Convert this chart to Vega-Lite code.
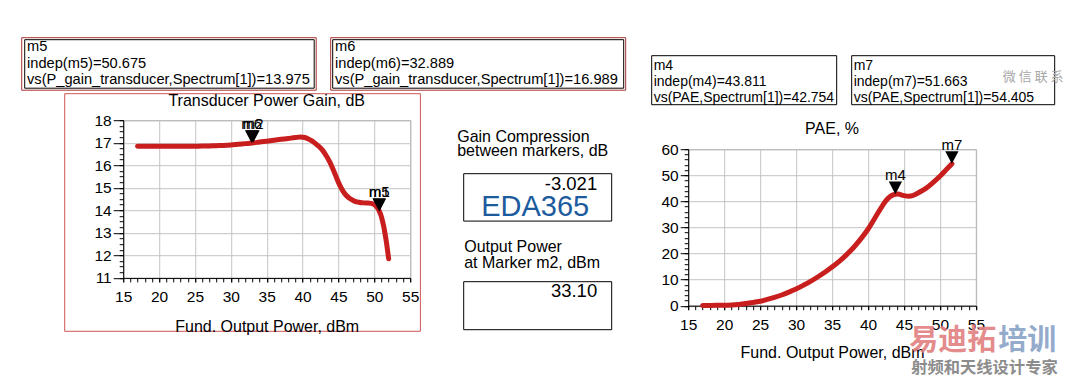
{
  "$schema": "https://vega.github.io/schema/vega-lite/v6.json",
  "padding": {"left": 20.2, "top": 36.2, "right": 0, "bottom": 0},
  "background": "white",
  "spacing": 0,
  "bounds": "flush",
  "config": {
    "font": "Liberation Sans",
    "view": {"stroke": null},
    "axis": {"labelFont": "Liberation Sans", "titleFont": "Liberation Sans", "labelColor": "black", "titleColor": "black", "titleFontWeight": "normal", "labelFontSize": 15.5, "titleFontSize": 16, "labelFlush": false, "labelOverlap": false, "labelBound": false},
    "text": {"font": "Liberation Sans", "color": "black"}
  },
  "datasets": {
    "gain": [
      {"pout": 17.0, "gain": 16.84}, {"pout": 18, "gain": 16.84}, {"pout": 19, "gain": 16.84}, {"pout": 20, "gain": 16.84},
      {"pout": 21, "gain": 16.84}, {"pout": 22, "gain": 16.84}, {"pout": 23, "gain": 16.84}, {"pout": 24, "gain": 16.84},
      {"pout": 25, "gain": 16.845}, {"pout": 26, "gain": 16.85}, {"pout": 27, "gain": 16.86}, {"pout": 28, "gain": 16.87},
      {"pout": 29, "gain": 16.88}, {"pout": 30, "gain": 16.9}, {"pout": 31, "gain": 16.93}, {"pout": 32, "gain": 16.96},
      {"pout": 33, "gain": 16.99}, {"pout": 34, "gain": 17.03}, {"pout": 35, "gain": 17.07}, {"pout": 36, "gain": 17.11},
      {"pout": 37, "gain": 17.15}, {"pout": 38, "gain": 17.19}, {"pout": 39, "gain": 17.23}, {"pout": 39.7, "gain": 17.25},
      {"pout": 40.3, "gain": 17.23}, {"pout": 40.8, "gain": 17.17}, {"pout": 41.3, "gain": 17.08}, {"pout": 41.8, "gain": 16.96},
      {"pout": 42.3, "gain": 16.83}, {"pout": 42.8, "gain": 16.66}, {"pout": 43.3, "gain": 16.42}, {"pout": 43.8, "gain": 16.14},
      {"pout": 44.2, "gain": 15.86}, {"pout": 44.6, "gain": 15.55}, {"pout": 45.0, "gain": 15.24}, {"pout": 45.4, "gain": 14.98},
      {"pout": 45.9, "gain": 14.73}, {"pout": 46.4, "gain": 14.57}, {"pout": 46.8, "gain": 14.48}, {"pout": 47.3, "gain": 14.4},
      {"pout": 47.8, "gain": 14.36}, {"pout": 48.5, "gain": 14.33}, {"pout": 49.2, "gain": 14.32}, {"pout": 49.8, "gain": 14.29},
      {"pout": 50.2, "gain": 14.2}, {"pout": 50.5, "gain": 14.08}, {"pout": 50.675, "gain": 13.975}, {"pout": 50.9, "gain": 13.8},
      {"pout": 51.1, "gain": 13.58}, {"pout": 51.3, "gain": 13.3}, {"pout": 51.5, "gain": 12.95}, {"pout": 51.7, "gain": 12.55},
      {"pout": 51.85, "gain": 12.2}, {"pout": 52.0, "gain": 11.85}
    ],
    "pae": [
      {"pout": 17, "pae": 0.05}, {"pout": 18, "pae": 0.1}, {"pout": 19, "pae": 0.15}, {"pout": 20, "pae": 0.2},
      {"pout": 21, "pae": 0.3}, {"pout": 22, "pae": 0.5}, {"pout": 23, "pae": 0.8}, {"pout": 24, "pae": 1.2},
      {"pout": 25, "pae": 1.7}, {"pout": 26, "pae": 2.4}, {"pout": 27, "pae": 3.2}, {"pout": 28, "pae": 4.1},
      {"pout": 29, "pae": 5.2}, {"pout": 30, "pae": 6.4}, {"pout": 31, "pae": 7.8}, {"pout": 32, "pae": 9.3},
      {"pout": 33, "pae": 11.0}, {"pout": 34, "pae": 12.8}, {"pout": 35, "pae": 14.8}, {"pout": 36, "pae": 17.0},
      {"pout": 37, "pae": 19.5}, {"pout": 38, "pae": 22.3}, {"pout": 39, "pae": 25.6}, {"pout": 40, "pae": 29.3},
      {"pout": 41, "pae": 33.8}, {"pout": 42, "pae": 38.3}, {"pout": 42.5, "pae": 40.3}, {"pout": 43, "pae": 41.7},
      {"pout": 43.5, "pae": 42.5}, {"pout": 43.811, "pae": 42.754}, {"pout": 44.2, "pae": 42.8}, {"pout": 44.7, "pae": 42.4},
      {"pout": 45.2, "pae": 42.1}, {"pout": 45.7, "pae": 42.0}, {"pout": 46.2, "pae": 42.2}, {"pout": 46.7, "pae": 42.8},
      {"pout": 47.2, "pae": 43.6}, {"pout": 48, "pae": 44.9}, {"pout": 49, "pae": 47.1}, {"pout": 50, "pae": 49.6},
      {"pout": 51, "pae": 52.5}, {"pout": 51.663, "pae": 54.405}
    ],
    "gm": [
      {"x": 32.889, "y": 16.989, "label": "m6"},
      {"x": 33.1, "y": 16.995, "label": "m2"},
      {"x": 50.675, "y": 13.975, "label": "m5"},
      {"x": 50.7, "y": 13.95, "label": "m1"}
    ],
    "pm": [
      {"x": 43.811, "y": 42.754, "label": "m4"},
      {"x": 51.663, "y": 54.405, "label": "m7"}
    ]
  },
  "vconcat": [
    {"spacing": 0, "bounds": "flush", "hconcat": [
      {"width": 294.5, "height": 52.5, "view": {"stroke": "#a83232"}, "data": {"values": []}, "mark": "point"},
      {"width": 13.1, "height": 1, "data": {"values": []}, "mark": "point"},
      {"width": 295, "height": 52.5, "view": {"stroke": "#a83232"}, "data": {"values": []}, "mark": "point"}
    ]},
    {"width": 1, "height": 2, "data": {"values": []}, "mark": "point"},
    {"spacing": 0, "bounds": "flush", "hconcat": [
      {"width": 2.5, "height": 1, "data": {"values": []}, "mark": "point"},
      {
        "width": 289.5, "height": 48.5,
        "view": {"stroke": "black"},
        "data": {"values": [{"t": "m5\nindep(m5)=50.675\nvs(P_gain_transducer,Spectrum[1])=13.975"}]},
        "mark": {"type": "text", "x": 2.8, "y": 12.3, "align": "left", "baseline": "alphabetic", "lineBreak": "\n", "lineHeight": 16.3, "fontSize": 14.66},
        "encoding": {"text": {"field": "t"}}
      },
      {"width": 17.8, "height": 1, "data": {"values": []}, "mark": "point"},
      {
        "width": 291, "height": 48.5,
        "view": {"stroke": "black"},
        "data": {"values": [{"t": "m6\nindep(m6)=32.889\nvs(P_gain_transducer,Spectrum[1])=16.989"}]},
        "mark": {"type": "text", "x": 2.8, "y": 12.3, "align": "left", "baseline": "alphabetic", "lineBreak": "\n", "lineHeight": 16.3, "fontSize": 14.66},
        "encoding": {"text": {"field": "t"}}
      }
    ]},
    {"width": 1, "height": 15.3, "data": {"values": []}, "mark": "point"},
    {"spacing": 0, "bounds": "flush", "hconcat": [
      {"width": 629.3, "height": 1, "data": {"values": []}, "mark": "point"},
      {
        "width": 185, "height": 49,
        "view": {"stroke": "black"},
        "data": {"values": [{"t": "m4\nindep(m4)=43.811\nvs(PAE,Spectrum[1])=42.754"}]},
        "mark": {"type": "text", "x": 2.5, "y": 14.8, "align": "left", "baseline": "alphabetic", "lineBreak": "\n", "lineHeight": 16, "fontSize": 14},
        "encoding": {"text": {"field": "t"}}
      },
      {"width": 14.3, "height": 1, "data": {"values": []}, "mark": "point"},
      {
        "width": 203, "height": 49,
        "view": {"stroke": "black"},
        "data": {"values": [{"t": "m7\nindep(m7)=51.663\nvs(PAE,Spectrum[1])=54.405", "w": "微 信 联 系"}]},
        "layer": [
          {
            "mark": {"type": "text", "x": 2.5, "y": 14.8, "align": "left", "baseline": "alphabetic", "lineBreak": "\n", "lineHeight": 16, "fontSize": 14},
            "encoding": {"text": {"field": "t"}}
          },
          {
            "mark": {"type": "text", "x": 182, "y": 22, "align": "center", "baseline": "middle", "fontSize": 13, "font": "Noto Sans CJK SC", "color": "#a8a8a8"},
            "encoding": {"text": {"field": "w"}}
          }
        ]
      }
    ]},
    {"width": 1, "height": 37.7, "data": {"values": []}, "mark": "point"},
    {"spacing": 0, "bounds": "flush", "hconcat": [
      {"width": 42.6, "height": 1, "data": {"values": []}, "mark": "point"},
      {"width": 355.7, "height": 237.6, "view": {"stroke": "#d05454"}, "data": {"values": []}, "mark": "point"}
    ]},
    {"width": 1, "height": 11.8, "data": {"values": []}, "mark": "point"},
    {"spacing": 0, "bounds": "flush", "hconcat": [
      {"width": 101.3, "height": 1, "data": {"values": []}, "mark": "point"},
      {
        "width": 287, "height": 1,
        "data": {"values": [{"t": "Transducer Power Gain, dB"}]},
        "mark": {"type": "text", "x": 143.5, "y": 1, "align": "center", "baseline": "alphabetic", "fontSize": 16},
        "encoding": {"text": {"field": "t"}}
      }
    ]},
    {"width": 1, "height": 14.8, "data": {"values": []}, "mark": "point"},
    {"spacing": 0, "bounds": "flush", "hconcat": [
      {"width": 101.3, "height": 1, "data": {"values": []}, "mark": "point"},
      {
        "width": 287, "height": 157.7,
        "view": {"stroke": "#8c8c8c"},
        "layer": [
          {
            "data": {"name": "gain"},
            "mark": {"type": "line", "color": "#c81e1e", "strokeWidth": 5, "strokeCap": "round", "strokeJoin": "round", "interpolate": "monotone"},
            "encoding": {
              "x": {"field": "pout", "type": "quantitative", "scale": {"domain": [15, 55], "nice": false, "zero": false},
                "axis": {"values": [15, 20, 25, 30, 35, 40, 45, 50, 55], "grid": true, "gridColor": "#c4c4c4", "domainColor": "black", "tickColor": "black", "tickSize": 4, "labelPadding": 8, "title": "Fund. Output Power, dBm", "titleBaseline": "alphabetic", "titleY": 53.5}},
              "y": {"field": "gain", "type": "quantitative", "scale": {"domain": [11, 18], "nice": false, "zero": false},
                "axis": {"values": [11, 12, 13, 14, 15, 16, 17, 18], "grid": true, "gridColor": "#c4c4c4", "domainColor": "black", "tickColor": "black", "tickSize": 10, "labelPadding": 2, "title": null}}
            }
          },
          {
            "data": {"name": "gm"},
            "mark": {"type": "point", "shape": "M-1,-1.9L1,-1.9L0,0Z", "size": 177, "filled": true, "color": "black", "opacity": 1},
            "encoding": {
              "x": {"field": "x", "type": "quantitative", "scale": {"domain": [15, 55], "nice": false, "zero": false},
                "axis": {"orient": "bottom", "values": [15,16,17,18,19,20,21,22,23,24,25,26,27,28,29,30,31,32,33,34,35,36,37,38,39,40,41,42,43,44,45,46,47,48,49,50,51,52,53,54,55], "grid": false, "labels": false, "domain": false, "tickColor": "black", "tickSize": 4, "title": null}},
              "y": {"field": "y", "type": "quantitative", "scale": {"domain": [11, 18], "nice": false, "zero": false},
                "axis": {"orient": "left", "values": [11,11.25,11.5,11.75,12,12.25,12.5,12.75,13,13.25,13.5,13.75,14,14.25,14.5,14.75,15,15.25,15.5,15.75,16,16.25,16.5,16.75,17,17.25,17.5,17.75,18], "grid": false, "labels": false, "domain": false, "tickColor": "black", "tickSize": 4, "title": null}}
            }
          },
          {
            "data": {"name": "gm"},
            "mark": {"type": "text", "dy": -14, "baseline": "alphabetic", "align": "center", "fontSize": 15},
            "encoding": {
              "x": {"field": "x", "type": "quantitative", "scale": {"domain": [15, 55], "nice": false, "zero": false}, "axis": null},
              "y": {"field": "y", "type": "quantitative", "scale": {"domain": [11, 18], "nice": false, "zero": false}, "axis": null},
              "text": {"field": "label"}
            }
          }
        ],
        "resolve": {"axis": {"x": "independent", "y": "independent"}}
      }
    ]},
    {"width": 1, "height": 12.7, "data": {"values": []}, "mark": "point"},
    {"spacing": 0, "bounds": "flush", "hconcat": [
      {"width": 666.6, "height": 1, "data": {"values": []}, "mark": "point"},
      {
        "width": 287.7, "height": 1,
        "data": {"values": [{"t": "PAE, %"}]},
        "mark": {"type": "text", "x": 143.85, "y": 1, "align": "center", "baseline": "alphabetic", "fontSize": 16},
        "encoding": {"text": {"field": "t"}}
      }
    ]},
    {"width": 1, "height": 7.3, "data": {"values": []}, "mark": "point"},
    {"spacing": 0, "bounds": "flush", "hconcat": [
      {"width": 436, "height": 1, "data": {"values": []}, "mark": "point"},
      {
        "width": 160, "height": 1,
        "data": {"values": [{"t": "Gain Compression\nbetween markers, dB"}]},
        "mark": {"type": "text", "x": 0, "y": 1, "align": "left", "baseline": "alphabetic", "lineBreak": "\n", "lineHeight": 14, "fontSize": 16},
        "encoding": {"text": {"field": "t"}}
      }
    ]},
    {"width": 1, "height": 7.7, "data": {"values": []}, "mark": "point"},
    {"spacing": 0, "bounds": "flush", "hconcat": [
      {"width": 666.6, "height": 1, "data": {"values": []}, "mark": "point"},
      {
        "width": 287.7, "height": 156.5,
        "view": {"stroke": "#8c8c8c"},
        "layer": [
          {
            "data": {"name": "pae"},
            "mark": {"type": "line", "color": "#c81e1e", "strokeWidth": 5, "strokeCap": "round", "strokeJoin": "round", "interpolate": "monotone"},
            "encoding": {
              "x": {"field": "pout", "type": "quantitative", "scale": {"domain": [15, 55], "nice": false, "zero": false},
                "axis": {"values": [15, 20, 25, 30, 35, 40, 45, 50, 55], "grid": true, "gridColor": "#c4c4c4", "domainColor": "black", "tickColor": "black", "tickSize": 4, "labelPadding": 8, "title": "Fund. Output Power, dBm", "titleBaseline": "alphabetic", "titleY": 51.5}},
              "y": {"field": "pae", "type": "quantitative", "scale": {"domain": [0, 60], "nice": false, "zero": false},
                "axis": {"values": [0, 10, 20, 30, 40, 50, 60], "grid": true, "gridColor": "#c4c4c4", "domainColor": "black", "tickColor": "black", "tickSize": 8, "labelPadding": 2, "title": null}}
            }
          },
          {
            "data": {"name": "pm"},
            "mark": {"type": "point", "shape": "M-1,-1.9L1,-1.9L0,0Z", "size": 177, "filled": true, "color": "black", "opacity": 1},
            "encoding": {
              "x": {"field": "x", "type": "quantitative", "scale": {"domain": [15, 55], "nice": false, "zero": false},
                "axis": {"orient": "bottom", "values": [15,16,17,18,19,20,21,22,23,24,25,26,27,28,29,30,31,32,33,34,35,36,37,38,39,40,41,42,43,44,45,46,47,48,49,50,51,52,53,54,55], "grid": false, "labels": false, "domain": false, "tickColor": "black", "tickSize": 4, "title": null}},
              "y": {"field": "y", "type": "quantitative", "scale": {"domain": [0, 60], "nice": false, "zero": false},
                "axis": {"orient": "left", "values": [0,2,4,6,8,10,12,14,16,18,20,22,24,26,28,30,32,34,36,38,40,42,44,46,48,50,52,54,56,58,60], "grid": false, "labels": false, "domain": false, "tickColor": "black", "tickSize": 4, "title": null}}
            }
          },
          {
            "data": {"name": "pm"},
            "mark": {"type": "text", "dy": -14, "baseline": "alphabetic", "align": "center", "fontSize": 15},
            "encoding": {
              "x": {"field": "x", "type": "quantitative", "scale": {"domain": [15, 55], "nice": false, "zero": false}, "axis": null},
              "y": {"field": "y", "type": "quantitative", "scale": {"domain": [0, 60], "nice": false, "zero": false}, "axis": null},
              "text": {"field": "label"}
            }
          }
        ],
        "resolve": {"axis": {"x": "independent", "y": "independent"}}
      }
    ]},
    {"width": 1, "height": 23.3, "data": {"values": []}, "mark": "point"},
    {"spacing": 0, "bounds": "flush", "hconcat": [
      {"width": 442, "height": 1, "data": {"values": []}, "mark": "point"},
      {
        "width": 148, "height": 47.4,
        "view": {"stroke": "black"},
        "data": {"values": [{"v": "-3.021", "w": "EDA365"}]},
        "layer": [
          {
            "mark": {"type": "text", "x": 134, "y": 17.3, "align": "right", "baseline": "alphabetic", "fontSize": 18.5},
            "encoding": {"text": {"field": "v"}}
          },
          {
            "mark": {"type": "text", "x": 72, "y": 42.4, "align": "center", "baseline": "alphabetic", "fontSize": 29, "color": "#1c5b9e"},
            "encoding": {"text": {"field": "w"}}
          }
        ]
      }
    ]},
    {"width": 1, "height": 78, "data": {"values": []}, "mark": "point"},
    {"spacing": 0, "bounds": "flush", "hconcat": [
      {"width": 442.6, "height": 1, "data": {"values": []}, "mark": "point"},
      {
        "width": 160, "height": 1,
        "data": {"values": [{"t": "Output Power\nat Marker m2, dBm"}]},
        "mark": {"type": "text", "x": 0, "y": 1, "align": "left", "baseline": "alphabetic", "lineBreak": "\n", "lineHeight": 16, "fontSize": 16},
        "encoding": {"text": {"field": "t"}}
      }
    ]},
    {"width": 1, "height": 29.7, "data": {"values": []}, "mark": "point"},
    {"spacing": 0, "bounds": "flush", "hconcat": [
      {"width": 442, "height": 1, "data": {"values": []}, "mark": "point"},
      {
        "width": 148, "height": 48,
        "view": {"stroke": "black"},
        "data": {"values": [{"v": "33.10"}]},
        "mark": {"type": "text", "x": 134, "y": 16.3, "align": "right", "baseline": "alphabetic", "fontSize": 18.5},
        "encoding": {"text": {"field": "v"}}
      }
    ]},
    {"width": 1, "height": 58.5, "data": {"values": []}, "mark": "point"},
    {"spacing": 0, "bounds": "flush", "hconcat": [
      {"width": 887.3, "height": 1, "data": {"values": []}, "mark": "point"},
      {
        "width": 89, "height": 1,
        "data": {"values": [{"w": "易迪拓"}]},
        "mark": {"type": "text", "x": 0, "y": 1, "align": "left", "baseline": "middle", "fontSize": 29, "fontWeight": "bold", "font": "Noto Sans CJK SC", "color": "#e27f7f", "opacity": 0.9},
        "encoding": {"text": {"field": "w"}}
      },
      {
        "width": 60, "height": 1,
        "data": {"values": [{"w": "培训"}]},
        "mark": {"type": "text", "x": 0, "y": 1, "align": "left", "baseline": "middle", "fontSize": 29, "fontWeight": "bold", "font": "Noto Sans CJK SC", "color": "#8aa3c6", "opacity": 0.9},
        "encoding": {"text": {"field": "w"}}
      }
    ]},
    {"width": 1, "height": 27, "data": {"values": []}, "mark": "point"},
    {"spacing": 0, "bounds": "flush", "hconcat": [
      {"width": 889.3, "height": 1, "data": {"values": []}, "mark": "point"},
      {
        "width": 150, "height": 1,
        "data": {"values": [{"w": "射频和天线设计专家"}]},
        "mark": {"type": "text", "x": 0, "y": 1, "align": "left", "baseline": "middle", "fontSize": 16.3, "fontWeight": "bold", "font": "Noto Sans CJK SC", "color": "#8c8c8c"},
        "encoding": {"text": {"field": "w"}}
      }
    ]}
  ]
}
